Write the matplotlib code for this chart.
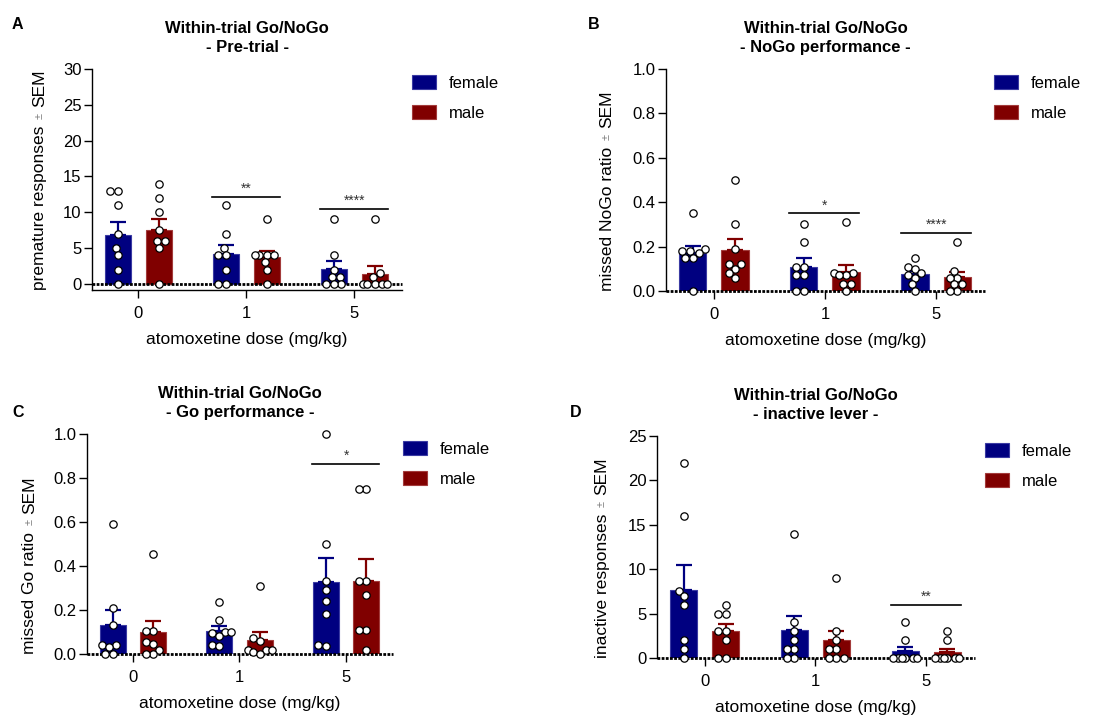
import numpy as np
import matplotlib
matplotlib.use("Agg")
import matplotlib.pyplot as plt
from matplotlib.patches import Patch

plt.rcParams['font.family'] = ['Liberation Sans', 'DejaVu Sans']

doses = ['0', '1', '5']
sexes = ['female', 'male']

# individual animals, one list per dose (0, 1, 5 mg/kg)
pre_female = [[13, 13, 11, 7, 5, 4, 2, 0], [11, 7, 5, 4, 4, 2, 0, 0], [9, 4, 2, 1, 1, 0, 0, 0]]
pre_male = [[14, 12, 10, 7.5, 6, 6, 5, 0], [9, 4, 4, 4, 4, 3, 2, 0], [9, 1.5, 1, 0, 0, 0, 0, 0]]

nogo_female = [[0.35, 0.19, 0.18, 0.18, 0.17, 0.15, 0.15, 0.0],
               [0.30, 0.22, 0.11, 0.11, 0.07, 0.07, 0.0, 0.0],
               [0.15, 0.11, 0.10, 0.08, 0.07, 0.06, 0.03, 0.0]]
nogo_male = [[0.50, 0.30, 0.19, 0.12, 0.12, 0.10, 0.08, 0.06],
             [0.31, 0.08, 0.08, 0.07, 0.07, 0.03, 0.03, 0.0],
             [0.22, 0.09, 0.06, 0.06, 0.03, 0.03, 0.0, 0.0]]

go_female = [[0.59, 0.21, 0.13, 0.04, 0.04, 0.03, 0.0, 0.0],
             [0.235, 0.155, 0.10, 0.10, 0.095, 0.08, 0.04, 0.035],
             [1.0, 0.50, 0.33, 0.29, 0.24, 0.18, 0.04, 0.035]]
go_male = [[0.455, 0.105, 0.105, 0.055, 0.045, 0.02, 0.0, 0.0],
           [0.31, 0.075, 0.06, 0.02, 0.02, 0.02, 0.01, 0.0],
           [0.75, 0.75, 0.33, 0.33, 0.27, 0.11, 0.11, 0.02]]

inactive_female = [[22, 16, 7.6, 7, 6, 2, 1, 0], [14, 4, 3, 2, 1, 1, 0, 0], [4, 2, 0, 0, 0, 0, 0, 0]]
inactive_male = [[6, 5, 5, 3, 3, 2, 0, 0], [9, 3, 2, 1, 1, 0, 0, 0], [3, 2, 0, 0, 0, 0, 0, 0]]

# (dose index, stars, line height)
sig_pre = [(1, '**', 12.2), (2, '****', 10.5)]
sig_nogo = [(1, '*', 0.35), (2, '****', 0.263)]
sig_go = [(2, '*', 0.864)]
sig_inactive = [(2, '**', 6.0)]

subtitles = ['- Pre-trial -', '- NoGo performance -', '- Go performance -', '- inactive lever -']
ylabels = ['premature responses', 'missed NoGo ratio', 'missed Go ratio', 'inactive responses']

COL_F = '#000080'
COL_M = '#800000'
EDGE_F = '#3b3ba3'
EDGE_M = '#a33b3b'

W, H = 1104, 716
fig = plt.figure(figsize=(W / 100, H / 100), dpi=100)


def px_rect(l, t, r, b):
    return [l / W, 1 - b / H, (r - l) / W, (b - t) / H]


panels = [
    dict(letter='A', rect=(92, 69, 402, 290), ylim=(-0.84, 30), step=5, fmt='{:.0f}',
         female=pre_female, male=pre_male, sig=sig_pre, ylab_dx=52, leg=(412, 75),
         letter_xy=(12, 29)),
    dict(letter='B', rect=(666, 69, 985, 291), ylim=(0, 1), step=0.2, fmt='{:.1f}',
         female=nogo_female, male=nogo_male, sig=sig_nogo, ylab_dx=59, leg=(994, 75),
         letter_xy=(588, 29)),
    dict(letter='C', rect=(87, 434, 393, 654), ylim=(0, 1), step=0.2, fmt='{:.1f}',
         female=go_female, male=go_male, sig=sig_go, ylab_dx=57, leg=(403, 441),
         letter_xy=(12, 417)),
    dict(letter='D', rect=(657, 436, 975, 658), ylim=(0, 25), step=5, fmt='{:.0f}',
         female=inactive_female, male=inactive_male, sig=sig_inactive, ylab_dx=55, leg=(985, 443),
         letter_xy=(570, 417)),
]

BAR_W = 0.245
OFF = 0.19
DOT = 7.3  # marker diameter in pixels


def swarm_offsets(ax, xc, vals, half_px=12.0):
    """Spread tied points sideways so they do not overlap, within the bar."""
    pts = ax.transData.transform([(xc, v) for v in vals])
    px_per_x = ax.transData.transform((1, 0))[0] - ax.transData.transform((0, 0))[0]
    cands = sorted(np.arange(-half_px, half_px + 0.01, 0.5), key=lambda c: (abs(c), c))
    placed = []
    offs = np.zeros(len(vals))
    for i in np.argsort(vals):
        py = pts[i][1]
        best = None
        for c in cands:
            if all((c - ox) ** 2 + (py - oy) ** 2 >= DOT ** 2 for ox, oy in placed):
                best = c
                break
        if best is None:
            best = max(cands, key=lambda c: min(np.hypot(c - ox, py - oy) for ox, oy in placed))
        placed.append((best, py))
        offs[i] = best / px_per_x
    return offs


ylab_parts = []
for p, sub, ylab in zip(panels, subtitles, ylabels):
    ax = fig.add_axes(px_rect(*p['rect']))
    ax.set_xlim(-0.43, 2.44)
    ax.set_ylim(*p['ylim'])
    top = p['ylim'][1]
    ax.set_yticks(np.arange(0, top + p['step'] / 2, p['step']))
    ax.set_yticklabels([p['fmt'].format(v) for v in np.arange(0, top + p['step'] / 2, p['step'])])
    ax.set_xticks(range(len(doses)))
    ax.set_xticklabels(doses)

    for sp in ['top', 'right']:
        ax.spines[sp].set_visible(False)
    ax.spines['left'].set_linewidth(1.0)
    if p['ylim'][0] < 0:
        ax.spines['bottom'].set_linewidth(1.0)
    else:
        ax.spines['bottom'].set_visible(False)
    ax.tick_params(axis='y', length=6, width=1, pad=1.5, labelsize=12)
    ax.tick_params(axis='x', length=5.5, width=1, pad=6, labelsize=12)

    x = np.arange(len(doses))
    for vals, dx, col, edge in [(p['female'], -OFF, COL_F, EDGE_F), (p['male'], OFF, COL_M, EDGE_M)]:
        means = np.array([np.mean(v) for v in vals])
        sems = np.array([np.std(v, ddof=1) / np.sqrt(len(v)) for v in vals])
        ax.bar(x + dx, means, width=BAR_W, color=col, edgecolor=edge, linewidth=0.8, zorder=2)
        ax.errorbar(x + dx, means, yerr=[np.zeros_like(sems), sems], fmt='none',
                    ecolor=col, elinewidth=1.6, capsize=6, capthick=1.6, zorder=3)
        for i, v in enumerate(vals):
            jit = swarm_offsets(ax, x[i] + dx, v)
            ax.plot(x[i] + dx + jit, v, 'o', ms=5.3, mfc='white', mec='black', mew=0.9,
                    zorder=5, clip_on=False)

    ax.axhline(0, color='black', lw=2.0, ls=(0, (1, 0.5)), zorder=4, clip_on=False)

    for gi, stars, yy in p['sig']:
        ax.plot([gi - 0.32, gi + 0.31], [yy, yy], color='black', lw=1.2, zorder=3)
        ax.annotate(stars, xy=(gi, yy), xytext=(0, 0.5), textcoords='offset points',
                    ha='center', va='bottom', fontsize=10, color='#333333')

    ax.set_title('Within-trial Go/NoGo\n' + sub, fontsize=12, fontweight='bold',
                 pad=12, linespacing=1.35)
    ax.set_xlabel('atomoxetine dose (mg/kg)', fontsize=12.5, labelpad=8)

    # y label: main text, small grey ±, then SEM
    wpx = p['rect'][2] - p['rect'][0]
    t1 = ax.annotate(ylab, xy=(-p['ylab_dx'] / wpx, 0.0), xycoords='axes fraction',
                     rotation=90, ha='center', va='bottom', fontsize=12.5)
    t2 = ax.annotate('±', xy=(0.5, 1.0), xycoords=t1, xytext=(0, 5), textcoords='offset points',
                     rotation=90, ha='center', va='bottom', fontsize=8, color='#777777')
    t3 = ax.annotate('SEM', xy=(0.5, 1.0), xycoords=t2, xytext=(0, 4), textcoords='offset points',
                     rotation=90, ha='center', va='bottom', fontsize=12.5)
    ylab_parts.append((ax, t1, t3))

    handles = [Patch(facecolor=COL_F, edgecolor=EDGE_F, lw=0.8),
               Patch(facecolor=COL_M, edgecolor=EDGE_M, lw=0.8)]
    lx, ly = p['leg']
    ax.legend(handles, sexes, loc='upper left', bbox_to_anchor=(lx / W, 1 - ly / H),
              bbox_transform=fig.transFigure, frameon=False, fontsize=12, borderpad=0,
              borderaxespad=0, handlelength=1.45, handleheight=0.95, handletextpad=0.75,
              labelspacing=0.85)

    fig.text(p['letter_xy'][0] / W, 1 - p['letter_xy'][1] / H, p['letter'],
             fontsize=11.5, fontweight='bold', ha='left', va='baseline')

# centre each composite y label on its axes
fig.canvas.draw()
for ax, t1, t3 in ylab_parts:
    bb_ax = ax.get_window_extent()
    lo = t1.get_window_extent().y0
    hi = t3.get_window_extent().y1
    shift = ((bb_ax.y0 + bb_ax.y1) / 2 - (lo + hi) / 2) / bb_ax.height
    t1.xy = (t1.xy[0], t1.xy[1] + shift)

fig.savefig('out.png', dpi=100)
